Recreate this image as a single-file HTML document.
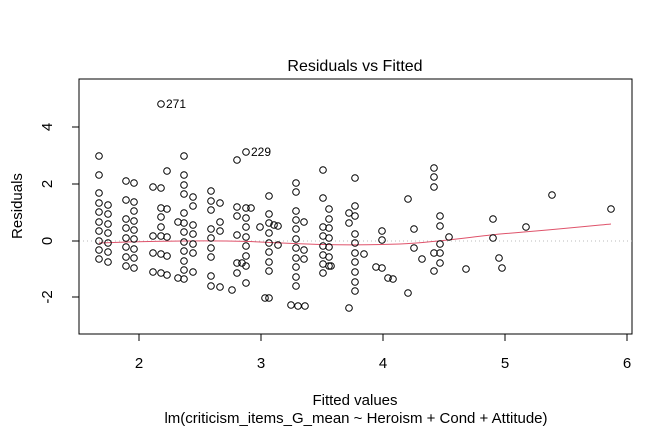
<!DOCTYPE html>
<html><head><meta charset="utf-8"><style>
html,body{margin:0;padding:0;background:#fff}
svg{display:block}
text{font-family:"Liberation Sans",Arial,sans-serif;fill:#000}
</style></head><body>
<svg id="s" width="672" height="432" viewBox="0 0 672 432" xmlns="http://www.w3.org/2000/svg">
<rect x="79" y="79" width="553" height="255" fill="none" stroke="#000" stroke-width="1"/>
<line x1="79" y1="241" x2="632" y2="241" stroke="#bbb" stroke-dasharray="1,3"/>
<g stroke="#000">
<line x1="139" y1="334" x2="627" y2="334"/>
<line x1="139" y1="334" x2="139" y2="341"/><line x1="261" y1="334" x2="261" y2="341"/>
<line x1="383" y1="334" x2="383" y2="341"/><line x1="505" y1="334" x2="505" y2="341"/>
<line x1="627" y1="334" x2="627" y2="341"/>
<line x1="79" y1="127" x2="79" y2="297"/>
<line x1="72" y1="127" x2="79" y2="127"/><line x1="72" y1="184" x2="79" y2="184"/>
<line x1="72" y1="241" x2="79" y2="241"/><line x1="72" y1="297" x2="79" y2="297"/>
</g>
<g font-size="15" text-anchor="middle">
<text x="139" y="368">2</text><text x="261" y="368">3</text><text x="383" y="368">4</text><text x="505" y="368">5</text><text x="627" y="368">6</text>
<text transform="translate(52,127) rotate(-90)">4</text>
<text transform="translate(52,184) rotate(-90)">2</text>
<text transform="translate(52,241) rotate(-90)">0</text>
<text transform="translate(52,297) rotate(-90)">-2</text>
<text x="355" y="71" font-size="16">Residuals vs Fitted</text>
<text x="355" y="405">Fitted values</text>
<text x="356" y="423">lm(criticism_items_G_mean ~ Heroism + Cond + Attitude)</text>
<text transform="translate(22,206) rotate(-90)">Residuals</text>
</g>
<g font-size="12"><text x="166" y="108">271</text><text x="251" y="156">229</text></g>
<path d="M99,243 C150,241 220,240 260,242 C300,244 340,246 400,244 C440,242 470,237 500,234 C540,231 580,227 611,224" fill="none" stroke="#df536b" stroke-width="1"/>
<g id="pts" fill="none" stroke="#000" stroke-width="1"></g>
</svg>
<script>
var cols=[
[99,[156,175,193,203,212,222,231,241,250,259]],
[108,[205,214,224,233,243,252,262]],
[126,[181,200,219,228,238,247,257,266]],
[134,[183,202,211,221,230,239,249,258,268]],
[153,[187,236,253,272]],
[161,[104,188,208,217,227,236,254,273]],
[167,[171,209,237,256,275]],
[184,[156,175,185,194,213,223,232,242,251,261,270,279]],
[193,[197,206,225,234,244,253,272]],
[178,[222,278]],
[211,[191,201,210,229,238,248,257,276,286]],
[220,[203,222,231,287]],
[237,[160,207,216,235,263,273]],
[246,[152,208,218,227,237,246,256,266,283]],
[242,[263]],[232,[290]],[251,[208]],[260,[227]],
[269,[196,214,223,233,243,252,262,271,298]],[265,[298]],
[274,[225]],[278,[226,245]],
[296,[183,192,211,220,229,239,248,258,267,277,286]],
[291,[305]],[298,[306]],[305,[306]],
[304,[222,250,259]],
[323,[170,198,227,236,246,255,264,273]],
[329,[209,219,228,238,247,257,266]],[331,[266]],
[349,[213,223,308]],
[355,[178,206,216,234,243,253,262,272,282,291]],
[364,[254]],[376,[267]],[382,[231,240,268]],[388,[278]],[393,[279]],
[408,[199,293]],[414,[229,248]],[422,[259]],
[434,[168,177,187,253,271]],[440,[216,226,244,253,263]],[449,[237]],[466,[269]],
[493,[219,238]],[499,[258]],[502,[268]],[526,[227]],[552,[195]],[611,[209]]
];
var g=document.getElementById('pts'),h='';
cols.forEach(function(c){c[1].forEach(function(y){h+='<circle cx="'+c[0]+'" cy="'+y+'" r="3.3"/>';});});
g.innerHTML=h;
</script>
</body></html>
